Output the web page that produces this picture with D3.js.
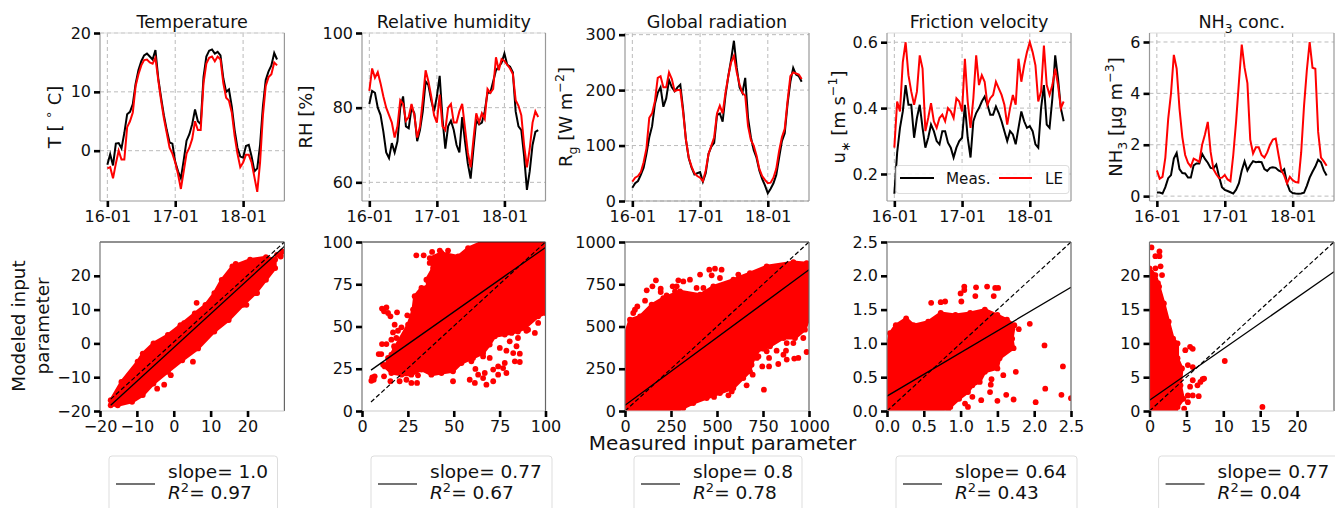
<!DOCTYPE html>
<html>
<head>
<meta charset="utf-8">
<script src="https://cdnjs.cloudflare.com/ajax/libs/d3/7.8.5/d3.min.js"></script>
<style>
  html, body { margin: 0; padding: 0; background: #fff; }
  svg { display: block; }
  text { font-family: "DejaVu Sans", sans-serif; fill: #111; }
</style>
</head>
<body>
<svg id="chart" width="1335" height="508"></svg>
<script>
// time axis: hours since the first tick
const hours = d3.range(0, 61);
const timeTicks = [0, 24, 48];
const timeTickLabels = ['16-01', '17-01', '18-01'];

// top row
const tempMeas = [-2.4,-0.6,-2.5,1.2,1.3,0.4,3,6.2,6.6,7.9,11.4,13.7,15.2,16.2,16.5,16,15.5,17.1,12.3,9,6,3.5,1.4,1.2,-1.9,-3.5,-4.7,-1.6,1.7,2.8,4.5,7,5,4.5,12.5,16,17,17.2,16.5,16.8,16.2,12.3,10,10.4,7.5,3.5,0.5,-1,-1.2,0.8,1,-1,-3.5,-3,1,7.5,12,13.5,14.5,16.6,15.5];
const tempLE = [-3,-2.8,-4.7,-2.2,0,-1.5,-1.5,4,5,6.5,11,13,14.5,15.4,15.5,15,14.8,15.8,12,8.5,5.5,3,0.5,-0.5,-2,-4,-6.5,-3.5,-0.5,0.5,2,5,3.5,3.5,11.5,14.8,15.8,16,15.2,16,15.5,11.5,9,8.5,6.5,2.5,-0.5,-2.8,-2,-0.7,-0.7,-2,-4.5,-7,-2,6,11,12.5,13,15,14.5];
const rhMeas = [81,84.5,84,80,78,73.5,68,66.5,70.5,68,71,80,83,75,74.5,80,78.5,71,74,79,87,86,82,79,83,88.5,77,69,75,76.5,74,70,68,77.5,71,65,61,69,76.6,75.5,76,79,84,84,87,90,91,92,94.5,91.5,91,89.5,79,75,74,67,58,63,70,73.5,74];
const rhLE = [84.5,90.5,88,89.5,86.5,83,80,78,76,72,75,82,81,76.5,77.5,81,78,72,75,82,90,87,83,78,76,83.5,75,74,80,81,76,76,79,81,74.5,68,64,71.5,78.5,76,78.5,77,85,84,85,93.5,90,93,92.5,91.5,90.5,89,82,80.5,78,70,64,69,76,79,77.5];
const radMeas = [24,32,36,47,60,85,115,135,175,195,205,170,185,218,205,198,205,210,165,110,77,60,48,50,52,35,50,85,98,105,155,158,143,190,225,255,289,240,205,195,222,150,115,92,78,55,40,28,14,22,32,47,78,108,122,175,215,240,228,225,215];
const radLE = [35,42,45,52,70,95,150,158,180,222,225,205,205,232,220,198,200,200,160,110,78,62,50,45,42,36,55,85,100,115,158,172,158,195,225,250,262,232,210,195,190,135,110,100,82,58,45,38,32,33,42,58,90,115,130,180,225,232,230,228,220];
const ustarMeas = [.14,.265,.34,.39,.47,.41,.41,.31,.37,.41,.34,.28,.31,.35,.33,.30,.29,.33,.33,.295,.28,.25,.28,.30,.31,.41,.31,.25,.36,.385,.40,.42,.435,.41,.38,.38,.405,.385,.36,.33,.30,.33,.32,.29,.34,.39,.36,.34,.345,.33,.29,.28,.40,.47,.35,.34,.43,.56,.49,.40,.36];
const ustarLE = [.28,.42,.39,.54,.60,.50,.45,.41,.45,.56,.52,.33,.37,.415,.36,.34,.37,.38,.36,.40,.39,.37,.43,.42,.39,.55,.42,.34,.43,.56,.47,.50,.48,.41,.43,.44,.48,.46,.44,.41,.35,.40,.44,.41,.55,.48,.53,.57,.60,.57,.53,.42,.45,.59,.47,.44,.47,.52,.47,.40,.42];
const nh3Meas = [.14,.14,.1,.35,.7,.82,1.46,1.68,1.05,.9,.88,.72,.72,1.2,1.27,1.27,1.65,1.45,1.3,1.1,1.08,1.23,.75,.35,.24,.2,.15,.1,.25,.5,1,1.35,1,1.2,1.36,1.32,1.34,1.32,1.05,.98,1.1,1.12,1.1,1,.95,1.05,.5,.2,.12,.1,.09,.1,.13,.4,.72,.95,1.15,1.42,1.32,1,.8];
const nh3LE = [1,.68,.75,1.5,3,4,5.5,4.96,3.4,2.3,1.6,1.3,1.15,1.46,1.4,1.33,2,2.4,2.89,1.72,1.05,.85,.7,.72,.82,.65,.58,1.6,2.9,4.44,5.9,5,4.4,2.2,1.66,1.9,1.9,1.6,1.5,1.7,2,2.2,2.24,1.6,1,.8,.5,.75,.62,.55,.53,1.7,3.5,4.9,6,5,4.96,2.5,1.5,1.35,1.18];

// bottom row: outline of the solid part of each cloud, [measured, modeled]
const tempCloud = [[-17.1,-16.8],[-14.2,-11.4],[-9.8,-5.4],[-8.4,-3],[-5.5,0],[-1.6,2.5],[1.8,5.4],[5.7,8.9],[8.6,11.4],[11,14.9],[13,18.8],[15.9,22.8],[20.7,24.8],[25,25.5],[27.5,24.8],[27.5,22.3],[25,18.8],[22.2,14.9],[18.8,11.4],[14.9,6.9],[11,3.5],[6.6,-1.5],[2.3,-5],[-1.6,-8.4],[-5.5,-11.9],[-8.4,-15.3],[-11.3,-17.3],[-15.2,-18.3],[-17.1,-18.3]];
const rhCloud = [[12.4,26.4],[17.8,37.3],[25.1,51.1],[27.8,60],[28.7,67.9],[32.4,72.8],[36,73.8],[35.1,77.7],[38.7,84.6],[36.9,90.5],[43.3,93.5],[52.4,91.5],[57.8,96.4],[65.1,99.8],[100,100],[100,58],[96,56],[88.7,49.1],[85,47],[77.8,45.2],[72.4,44.2],[69.6,39.3],[66,34.3],[60.5,31.4],[54.2,28.4],[49.6,23.5],[43.3,22.5],[37.8,21.5],[32.4,24.5],[26.9,21.5],[21.5,21.5],[16,22.5]];
const radCloud = [[0,343],[0,452],[27,540],[82,560],[145,629],[208,668],[299,708],[408,688],[480,737],[589,777],[679,816],[770,856],[915,881],[987,875],[1000,856],[1000,550],[978,481],[924,432],[861,432],[788,383],[716,353],[688,274],[679,235],[643,195],[589,136],[516,106],[444,77],[371,47],[317,18],[281,0],[0,0]];
const ustarCloud = [[0,.93],[.04,1.15],[.12,1.27],[.26,1.37],[.36,1.27],[.56,1.32],[.73,1.45],[.93,1.42],[1.13,1.45],[1.33,1.5],[1.5,1.42],[1.63,1.35],[1.73,1.27],[1.7,1.07],[1.72,.93],[1.53,.78],[1.5,.63],[1.33,.58],[1.26,.43],[1.16,.38],[1.1,.28],[.98,.18],[.86,.06],[.73,0],[0,0]];
const nh3Cloud = [[0,21.1],[.8,20.1],[1.3,18.4],[1.95,15.9],[2.6,13.2],[3.2,10.7],[3.8,10],[3.8,7.8],[4.4,6.3],[4.2,3.8],[4.6,1.8],[3.8,.6],[3.5,0],[0,0]];

// bottom row: single dots outside the solid part
const tempDots = [[29,26.2],[29.4,27.2],[29,25.7],[28,26.2],[16.8,23.5],[6.2,12],[2.8,6],[-.8,-9.4],[-2.6,-12.2],[-4.5,-13.4],[22.6,14.9],[19.7,11.4],[5.2,-5.4]];
const rhDots = [[29.6,92.1],[33.6,92.1],[38.2,94.1],[42.4,94.9],[46.9,94.9],[36.9,87.6],[10.9,60.6],[13.3,61.3],[12,59],[14.2,58],[15.5,56],[19.1,58.4],[24.7,56.6],[17.8,51.1],[21.5,49.5],[19.6,47.5],[16.9,46.5],[18.7,43.2],[16,42.2],[10.9,39.6],[13.3,39.6],[17.5,38.3],[9.1,33.7],[10.5,33.7],[16,33.3],[14.2,31.4],[11.5,27.4],[16,26.4],[5.6,19.9],[6.9,20.5],[5.1,17.9],[6.4,18.5],[12,20.5],[15.5,17.6],[20.5,17.6],[24.2,18.5],[26.9,16.6],[30,16.6],[30.5,21.1],[49.6,17.6],[58.7,18.5],[61.5,16.6],[66,19.5],[67.8,15.6],[71.5,17.6],[74.2,21.5],[71.5,24.5],[66.9,22.5],[63.3,21.5],[61.8,24.9],[77.8,28.4],[83.3,29.4],[86,29],[86,33.9],[82.4,34.3],[78.7,35.7],[75.1,37.3],[80.5,41.2],[85,43.2],[84.2,38.3],[76.9,25.4],[78.7,22.5],[74.2,26.4],[94.2,46.2],[90.5,48.1],[96,52.1],[98.7,60],[69.6,31.4],[66,32.3],[59.6,29.4],[46.9,26.4],[69.6,45.2],[81.5,46.2],[89.6,47.5]];
const radDots = [[458,836],[489,842],[525,836],[408,807],[471,803],[168,773],[149,738],[118,714],[194,724],[194,704],[290,773],[353,777],[259,738],[281,738],[272,708],[317,767],[389,728],[426,728],[516,787],[616,807],[54,599],[67,619],[109,653],[226,684],[45,580],[755,126],[987,349],[942,314],[915,402],[875,357],[824,357],[752,369],[725,323],[746,264],[783,264],[833,278],[879,304],[920,310],[783,314],[861,333],[661,152],[694,215],[562,93],[580,116],[484,83],[353,47],[879,402],[969,432],[960,501],[770,353],[716,314]];
const ustarDots = [[.73,1.61],[.6,1.6],[.79,1.62],[1,1.74],[1.05,1.84],[1.05,1.79],[1.21,1.83],[1.36,1.84],[1.47,1.82],[1.51,1.82],[1.2,1.7],[1.45,1.7],[1.01,1.62],[1.94,1.29],[1.79,1.21],[2.14,.97],[2.39,.66],[1.75,.58],[1.58,.53],[1.41,.39],[1.4,.28],[1.5,.15],[1.62,.24],[1.72,.17],[2.02,.13],[2.15,.33],[2.37,.24],[2.5,.19],[1.28,.16],[1.16,.21],[1.1,.06],[.83,.01],[1.06,.11],[1.42,.47]];
const nh3Dots = [[.27,24.2],[1.35,23.6],[1.35,22.9],[.8,22.9],[1.5,21.4],[.8,21.1],[1.7,20.1],[1.15,18.9],[5.5,9.5],[4.85,9],[5.86,9.2],[5.2,6.8],[5.86,6.5],[10.2,7.4],[15.3,.6],[7.4,4.8],[6.9,4.3],[6.5,3.8],[5.86,4.55],[5.5,3.6],[6.67,2.2],[5.86,2.3],[5.2,1.3],[4.7,.35],[4.2,2.3],[5.2,2.3],[7.2,4.7]];

// fit lines and 1:1 lines as [x0,y0,x1,y1]
const fitLines = [[-17.1,-18.3,30,28.7],[4.9,24.2,100,96.8],[0,34,1000,836],[0,.22,2.5,1.83],[0,1.58,25,20.6]];
const oneToOne = [[-17.1,-16.5,30,30],[4.9,5.3,100,100],[0,0,1000,1000],[0,0,2.5,2.5],[0,0,25,25]];

const slopes = ['1.0', '0.77', '0.8', '0.64', '0.77'];
const r2 = ['0.97', '0.67', '0.78', '0.43', '0.04'];

const topDomains = [[-8.55,20],[55,100],[0,303],[.118,.628],[-.19,6.35]];
const topTicks = [[0,10,20],[60,80,100],[0,100,200,300],[.2,.4,.6],[0,2,4,6]];
const bottomDomains = [[-20,30],[0,100],[0,1000],[0,2.5],[0,25]];
const bottomXTicks = [[-20,-10,0,10,20],[0,25,50,75,100],[0,250,500,750,1000],[0,.5,1,1.5,2,2.5],[0,5,10,15,20]];
const bottomYTicks = [[-20,-10,0,10,20],[0,25,50,75,100],[0,250,500,750,1000],[0,.5,1,1.5,2,2.5],[0,5,10,15,20]];

const titles = [
  [['Temperature','']],
  [['Relative humidity','']],
  [['Global radiation','']],
  [['Friction velocity','']],
  [['NH',''],['3','sub'],[' conc.','']]
];
const yLabels = [
  [['T [ ',''],['\u2218','sup'],[' C]','']],
  [['RH [%]','']],
  [['R',''],['g','sub'],[' [W m',''],['\u22122','sup'],[']','']],
  [['u',''],['\u2217','sub'],[' [m s',''],['\u22121','sup'],[']','']],
  [['NH',''],['3','sub'],[' [\u00b5g m',''],['\u22123','sup'],[']','']]
];

const seriesMeas = [tempMeas, rhMeas, radMeas, ustarMeas, nh3Meas];
const seriesLE = [tempLE, rhLE, radLE, ustarLE, nh3LE];
const clouds = [tempCloud, rhCloud, radCloud, ustarCloud, nh3Cloud];
const dots = [tempDots, rhDots, radDots, ustarDots, nh3Dots];

// panel frames in pixels
const panelX = [[100,284.4],[362,545.5],[625,809],[887,1071],[1149.5,1334]];
const labelX = [55, 306, 566, 839, 1115.5];
const legendX = [[109,277.5],[371,552],[634,802],[896,1077],[1158.6,1345]];
const topY = [33, 201];
const bottomY = [242, 411];

const svg = d3.select('#chart');

// text with sub/superscript pieces
function richText(sel, parts, size) {
  let shift = 0;
  parts.forEach(([t, kind]) => {
    const want = kind === 'sub' ? size * 0.3 : kind === 'sup' ? -size * 0.42 : 0;
    sel.append('tspan')
      .attr('dy', want - shift)
      .style('font-size', (kind ? size * 0.7 : size) + 'px')
      .text(t);
    shift = want;
  });
}

function drawTicks(g, axis) {
  g.call(axis);
  g.select('.domain').remove();
  g.selectAll('.tick line').attr('stroke', '#000').attr('stroke-width', 2.6);
  g.selectAll('.tick text').style('font-size', '16px').attr('fill', '#111');
}

function spines(g, xr, yr, cols) {
  const [l, r] = xr, [t, b] = yr;
  const seg = [[l,t,r,t,cols[0]],[r,t,r,b,cols[1]],[l,b,r,b,cols[2]],[l,t,l,b,cols[3]]];
  g.selectAll('line.spine').data(seg).enter().append('line').attr('class', 'spine')
    .attr('x1', d => d[0]).attr('y1', d => d[1]).attr('x2', d => d[2]).attr('y2', d => d[3])
    .attr('stroke', d => d[4]).attr('stroke-width', 1.2);
}

panelX.forEach((xr, i) => {
  // top row
  const top = svg.append('g');
  const x = d3.scaleLinear().domain([-2.6, 62.6]).range(xr);
  const y = d3.scaleLinear().domain(topDomains[i]).range([topY[1], topY[0]]);

  top.selectAll('line.gx').data(timeTicks).enter().append('line').attr('class', 'gx')
    .attr('x1', d => x(d)).attr('x2', d => x(d)).attr('y1', topY[0]).attr('y2', topY[1])
    .attr('stroke', '#bbb').attr('stroke-dasharray', '4,3');
  top.selectAll('line.gy').data(topTicks[i]).enter().append('line').attr('class', 'gy')
    .attr('x1', xr[0]).attr('x2', xr[1]).attr('y1', d => y(d)).attr('y2', d => y(d))
    .attr('stroke', '#bbb').attr('stroke-dasharray', '4,3');

  const line = d3.line().x((d, j) => x(hours[j])).y(d => y(d));
  top.append('path').attr('d', line(seriesMeas[i])).attr('fill', 'none').attr('stroke', '#000').attr('stroke-width', 2);
  top.append('path').attr('d', line(seriesLE[i])).attr('fill', 'none').attr('stroke', '#f00').attr('stroke-width', 2);

  spines(top, xr, topY, ['#ddd', '#999', '#999', '#999']);

  drawTicks(top.append('g').attr('transform', `translate(0,${topY[1]})`),
    d3.axisBottom(x).tickValues(timeTicks).tickSize(6).tickPadding(4).tickFormat((d, k) => timeTickLabels[k]));
  const fmt = i === 3 ? d3.format('.1f') : d3.format('d');
  drawTicks(top.append('g').attr('transform', `translate(${xr[0]},0)`),
    d3.axisLeft(y).tickValues(topTicks[i]).tickSize(6).tickPadding(3).tickFormat(fmt));

  top.append('text').attr('x', (xr[0] + xr[1]) / 2).attr('y', 28).attr('text-anchor', 'middle')
    .call(richText, titles[i], 17.6);
  top.append('text').attr('transform', `translate(${labelX[i] + 6},117) rotate(-90)`).attr('text-anchor', 'middle')
    .call(richText, yLabels[i], 18);

  // bottom row
  const bot = svg.append('g');
  const bx = d3.scaleLinear().domain(bottomDomains[i]).range(xr);
  const by = d3.scaleLinear().domain(bottomDomains[i]).range([bottomY[1], bottomY[0]]);
  const clipId = 'clip' + i;
  bot.append('clipPath').attr('id', clipId).append('rect')
    .attr('x', xr[0]).attr('y', bottomY[0]).attr('width', xr[1] - xr[0]).attr('height', bottomY[1] - bottomY[0]);
  const plot = bot.append('g').attr('clip-path', `url(#${clipId})`);

  const ring = d3.line().x(d => bx(d[0])).y(d => by(d[1])).curve(d3.curveLinearClosed);
  plot.append('path').attr('d', ring(clouds[i])).attr('fill', '#f00')
    .attr('stroke', '#f00').attr('stroke-width', 3).attr('stroke-linejoin', 'round');
  plot.selectAll('circle').data(clouds[i].concat(dots[i])).enter().append('circle')
    .attr('cx', d => bx(d[0])).attr('cy', d => by(d[1])).attr('r', 2.9).attr('fill', '#f00');

  const fit = fitLines[i], one = oneToOne[i];
  plot.append('line').attr('x1', bx(fit[0])).attr('y1', by(fit[1])).attr('x2', bx(fit[2])).attr('y2', by(fit[3]))
    .attr('stroke', '#000').attr('stroke-width', 1.3);
  plot.append('line').attr('x1', bx(one[0])).attr('y1', by(one[1])).attr('x2', bx(one[2])).attr('y2', by(one[3]))
    .attr('stroke', '#000').attr('stroke-width', 1.2).attr('stroke-dasharray', '4.5,2.5');

  spines(bot, xr, bottomY, ['#222', '#666', '#ccc', '#777']);

  const bfmt = i === 3 ? d3.format('.1f') : d => d3.format('d')(d).replace('-', '\u2212');
  drawTicks(bot.append('g').attr('transform', `translate(0,${bottomY[1]})`),
    d3.axisBottom(bx).tickValues(bottomXTicks[i]).tickSize(6).tickPadding(4).tickFormat(bfmt));
  drawTicks(bot.append('g').attr('transform', `translate(${xr[0]},0)`),
    d3.axisLeft(by).tickValues(bottomYTicks[i]).tickSize(6).tickPadding(3).tickFormat(bfmt));

  // fit legend below, runs off the bottom of the page
  const [lx0, lx1] = legendX[i];
  bot.append('rect').attr('x', lx0).attr('y', 456).attr('width', lx1 - lx0).attr('height', 70).attr('rx', 3)
    .attr('fill', '#fff').attr('stroke', '#ddd');
  bot.append('line').attr('x1', lx0 + 7).attr('x2', lx0 + 46).attr('y1', 484).attr('y2', 484)
    .attr('stroke', '#444').attr('stroke-width', 1.3);
  bot.append('text').attr('x', lx0 + 59).attr('y', 478).style('font-size', '18.5px').text('slope= ' + slopes[i]);
  const r = bot.append('text').attr('x', lx0 + 59).attr('y', 499).style('font-size', '18.5px');
  r.append('tspan').style('font-style', 'italic').text('R');
  r.append('tspan').attr('dy', -7).style('font-size', '13px').text('2');
  r.append('tspan').attr('dy', 7).text('= ' + r2[i]);
});

// meas/LE legend on the friction velocity panel
const leg = svg.append('g');
leg.append('rect').attr('x', 896).attr('y', 165.5).attr('width', 173).attr('height', 28).attr('rx', 3)
  .attr('fill', '#fff').attr('fill-opacity', .85).attr('stroke', '#ddd');
leg.append('line').attr('x1', 900).attr('x2', 934).attr('y1', 178).attr('y2', 178).attr('stroke', '#000').attr('stroke-width', 1.8);
leg.append('text').attr('x', 946).attr('y', 184).style('font-size', '15.2px').text('Meas.');
leg.append('line').attr('x1', 999).attr('x2', 1032).attr('y1', 178).attr('y2', 178).attr('stroke', '#f00').attr('stroke-width', 1.8);
leg.append('text').attr('x', 1045).attr('y', 184).style('font-size', '15.2px').text('LE');

// shared labels
svg.append('text').attr('transform', 'translate(25,326) rotate(-90)').attr('text-anchor', 'middle')
  .style('font-size', '18.4px').text('Modeled input');
svg.append('text').attr('transform', 'translate(49,326) rotate(-90)').attr('text-anchor', 'middle')
  .style('font-size', '18.4px').text('parameter');
svg.append('text').attr('x', 722.6).attr('y', 450).attr('text-anchor', 'middle')
  .style('font-size', '20px').text('Measured input parameter');
</script>
</body>
</html>
